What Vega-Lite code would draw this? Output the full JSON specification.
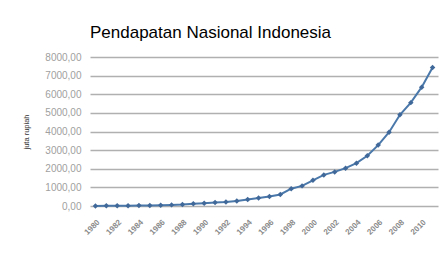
{
  "$schema": "https://vega.github.io/schema/vega-lite/v6.json",
  "autosize": "none",
  "width": 348,
  "height": 149,
  "padding": {"left": 90, "top": 57, "right": 8, "bottom": 49},
  "background": "white",
  "config": {"view": {"stroke": null}, "font": "Liberation Sans"},
  "title": {
    "text": "Pendapatan Nasional Indonesia",
    "anchor": "start",
    "frame": "group",
    "offset": 10,
    "fontSize": 17,
    "fontWeight": "normal",
    "color": "#000000",
    "font": "Liberation Sans"
  },
  "data": {
    "values": [
      {"tahun": 1980, "nilai": 5},
      {"tahun": 1981, "nilai": 8},
      {"tahun": 1982, "nilai": 12},
      {"tahun": 1983, "nilai": 18},
      {"tahun": 1984, "nilai": 25},
      {"tahun": 1985, "nilai": 30},
      {"tahun": 1986, "nilai": 40},
      {"tahun": 1987, "nilai": 60},
      {"tahun": 1988, "nilai": 80},
      {"tahun": 1989, "nilai": 120},
      {"tahun": 1990, "nilai": 150},
      {"tahun": 1991, "nilai": 190},
      {"tahun": 1992, "nilai": 220},
      {"tahun": 1993, "nilai": 270},
      {"tahun": 1994, "nilai": 350},
      {"tahun": 1995, "nilai": 430},
      {"tahun": 1996, "nilai": 510},
      {"tahun": 1997, "nilai": 620},
      {"tahun": 1998, "nilai": 930},
      {"tahun": 1999, "nilai": 1080},
      {"tahun": 2000, "nilai": 1380},
      {"tahun": 2001, "nilai": 1670},
      {"tahun": 2002, "nilai": 1830},
      {"tahun": 2003, "nilai": 2030},
      {"tahun": 2004, "nilai": 2300},
      {"tahun": 2005, "nilai": 2700},
      {"tahun": 2006, "nilai": 3270},
      {"tahun": 2007, "nilai": 3960},
      {"tahun": 2008, "nilai": 4900},
      {"tahun": 2009, "nilai": 5550},
      {"tahun": 2010, "nilai": 6380},
      {"tahun": 2011, "nilai": 7440}
    ]
  },
  "encoding": {
    "x": {
      "field": "tahun",
      "type": "ordinal",
      "scale": {"type": "point", "padding": 0.5},
      "axis": {
        "title": null,
        "values": [1980, 1982, 1984, 1986, 1988, 1990, 1992, 1994, 1996, 1998, 2000, 2002, 2004, 2006, 2008, 2010],
        "labelAngle": -45,
        "labelAlign": "right",
        "labelBaseline": "top",
        "labelPadding": 12,
        "labelFontSize": 8,
        "labelFontWeight": "bold",
        "labelColor": "#8a8a8a",
        "ticks": false,
        "domain": false,
        "grid": false
      }
    },
    "y": {
      "field": "nilai",
      "type": "quantitative",
      "scale": {"domain": [0, 8000], "nice": false},
      "axis": {
        "title": "juta rupiah",
        "titleFontSize": 7.5,
        "titleFontWeight": "normal",
        "titleColor": "#333333",
        "titlePadding": 14,
        "values": [0, 1000, 2000, 3000, 4000, 5000, 6000, 7000, 8000],
        "labelExpr": "replace(format(datum.value, '.2f'), '.', ',')",
        "labelFontSize": 10,
        "labelColor": "#a0a0a0",
        "labelPadding": 9,
        "ticks": false,
        "domain": false,
        "gridColor": "#b0b0b0",
        "gridWidth": 1.3
      }
    }
  },
  "layer": [
    {"mark": {"type": "line", "color": "#4a78aa", "strokeWidth": 2}},
    {"mark": {"type": "point", "shape": "diamond", "filled": true, "color": "#40699a", "size": 30, "opacity": 1}}
  ]
}
